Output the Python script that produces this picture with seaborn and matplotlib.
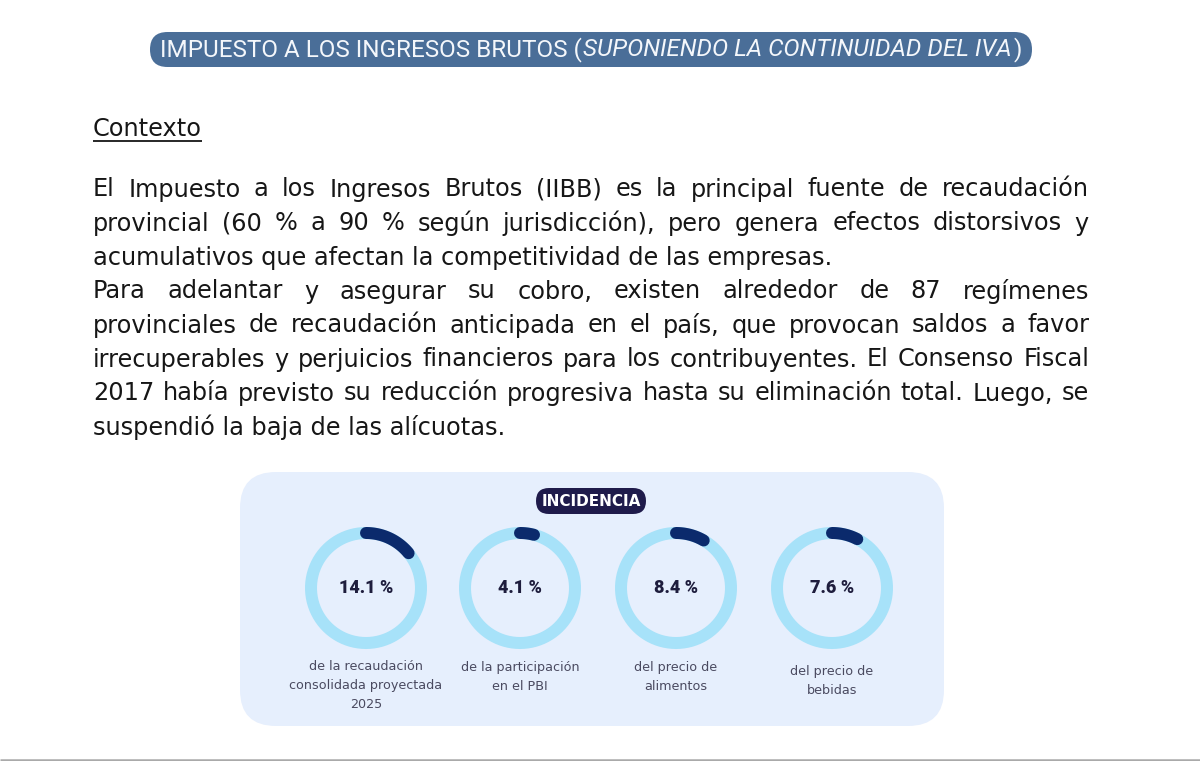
import numpy as np
import matplotlib
matplotlib.use("Agg")
import matplotlib.pyplot as plt
from matplotlib.patches import FancyBboxPatch
import seaborn as sns

# ---------------- data ----------------
title_main = "IMPUESTO A LOS INGRESOS BRUTOS ("
title_italic = "SUPONIENDO LA CONTINUIDAD DEL IVA"
title_end = ")"
section_title = "Contexto"
paragraph_lines = [
    "El Impuesto a los Ingresos Brutos (IIBB) es la principal fuente de recaudación",
    "provincial (60 % a 90 % según jurisdicción), pero genera efectos distorsivos y",
    "acumulativos que afectan la competitividad de las empresas.",
    "Para adelantar y asegurar su cobro, existen alrededor de 87 regímenes",
    "provinciales de recaudación anticipada en el país, que provocan saldos a favor",
    "irrecuperables y perjuicios financieros para los contribuyentes. El Consenso Fiscal",
    "2017 había previsto su reducción progresiva hasta su eliminación total. Luego, se",
    "suspendió la baja de las alícuotas.",
]
line_justified = [True, True, False, True, True, True, True, False]
badge_text = "INCIDENCIA"
values = [14.1, 4.1, 8.4, 7.6]
value_labels = ["14.1 %", "4.1 %", "8.4 %", "7.6 %"]
captions = [
    "de la recaudación\nconsolidada proyectada\n2025",
    "de la participación\nen el PBI",
    "del precio de\nalimentos",
    "del precio de\nbebidas",
]

# ---------------- style ----------------
sns.set_theme(style="white")
plt.rcParams["font.family"] = ["DejaVu Sans"]

TITLE_BG = "#4a6e98"
PANEL_BG = "#e6effd"
BADGE_BG = "#1f1b4b"
TRACK = "#a7e2f9"
ARC = "#0b2a6c"
VALUE_COL = "#1e1d3d"
CAPTION_COL = "#4a4a60"
TEXT_COL = "#161616"

W, H = 1200, 761
fig = plt.figure(figsize=(W / 100, H / 100), dpi=100)
fig.patch.set_facecolor("white")
ax = fig.add_axes([0, 0, 1, 1])
ax.set_xlim(0, W)
ax.set_ylim(H, 0)
ax.axis("off")
renderer = fig.canvas.get_renderer()


def measure(s, **kw):
    t = ax.text(0, 0, s, **kw)
    w = t.get_window_extent(renderer=renderer).width
    t.remove()
    return w


# ---------------- title pill ----------------
ax.add_patch(FancyBboxPatch((150, 32), 882, 35,
                            boxstyle="round,pad=0,rounding_size=17.5",
                            fc=TITLE_BG, ec="none", zorder=1))
tkw = dict(family=["Roboto", "DejaVu Sans"], weight="normal", color="#f4f7fb")
base = 16
wa = measure(title_main, fontsize=base, **tkw)
wb = measure(title_italic, fontsize=base, style="italic", **tkw)
wc = measure(title_end, fontsize=base, **tkw)
fs_t = base * 862 / (wa + wb + wc)
wa, wb = wa * fs_t / base, wb * fs_t / base
x = 160
ty = 56
ax.text(x, ty, title_main, fontsize=fs_t, va="baseline", ha="left", zorder=2, **tkw)
ax.text(x + wa, ty, title_italic, fontsize=fs_t, style="italic", va="baseline",
        ha="left", zorder=2, **tkw)
ax.text(x + wa + wb, ty, title_end, fontsize=fs_t, va="baseline", ha="left",
        zorder=2, **tkw)

# ---------------- paragraph ----------------
X0, X1 = 93, 1089
pkw = dict(family=["DejaVu Sans"], color=TEXT_COL)
base = 15
w3 = measure(paragraph_lines[2], fontsize=base, **pkw)
w6 = measure(paragraph_lines[5], fontsize=base, **pkw)
fs_p = base * min(740 / w3, 996 / w6)

ax.text(X0, 136, section_title, fontsize=fs_p, va="baseline", ha="left", **pkw)
wsec = measure(section_title, fontsize=fs_p, **pkw)
ax.plot([X0, X0 + wsec], [141, 141], color=TEXT_COL, lw=1.3, solid_capstyle="butt")


def draw_line(s, y, justified):
    if not justified:
        ax.text(X0, y, s, fontsize=fs_p, va="baseline", ha="left", **pkw)
        return
    words = s.split(" ")
    widths = [measure(w, fontsize=fs_p, **pkw) for w in words]
    gap = (X1 - X0 - sum(widths)) / (len(words) - 1)
    xx = X0
    for w, wd in zip(words, widths):
        ax.text(xx, y, w, fontsize=fs_p, va="baseline", ha="left", **pkw)
        xx += wd + gap


for i, (line, j) in enumerate(zip(paragraph_lines, line_justified)):
    draw_line(line, 196.5 + 34 * i, j)

# ---------------- panel ----------------
ax.add_patch(FancyBboxPatch((240, 472), 704, 254,
                            boxstyle="round,pad=0,rounding_size=36",
                            fc=PANEL_BG, ec="none", zorder=1))
ax.add_patch(FancyBboxPatch((536, 488), 110, 26,
                            boxstyle="round,pad=0,rounding_size=13",
                            fc=BADGE_BG, ec="none", zorder=2))
ax.text(591, 501.5, badge_text, fontsize=11, weight="bold", color="white",
        ha="center", va="center", family=["DejaVu Sans"], zorder=3)

# ---------------- donuts ----------------
centers_x = [366, 520, 676, 832]
cy = 588
r = 55
ring_lw = 12 * 72 / 100
caption_top = [667, 667, 667, 671]
full = np.linspace(0, 2 * np.pi, 361)
for cx, v, lab, cap, ctop in zip(centers_x, values, value_labels, captions, caption_top):
    ax.plot(cx + r * np.sin(full), cy - r * np.cos(full), color=TRACK,
            lw=ring_lw, zorder=3, solid_capstyle="butt")
    th = np.linspace(0, v / 100 * 2 * np.pi, 100)
    ax.plot(cx + r * np.sin(th), cy - r * np.cos(th), color=ARC, lw=ring_lw,
            zorder=4, solid_capstyle="round")
    ax.text(cx, cy, lab, fontsize=13, weight="heavy", color=VALUE_COL,
            ha="center", va="center", family=["Roboto", "DejaVu Sans"], zorder=5)
    for k, cl in enumerate(cap.split("\n")):
        ax.text(cx, ctop + 19 * k, cl, fontsize=9.2, color=CAPTION_COL,
                ha="center", va="center", family=["DejaVu Sans"], zorder=5)

# bottom rule
ax.plot([0, W], [759.5, 759.5], color="#aaaaaa", lw=1.8, solid_capstyle="butt")

fig.savefig("out.png", dpi=100, facecolor="white")
